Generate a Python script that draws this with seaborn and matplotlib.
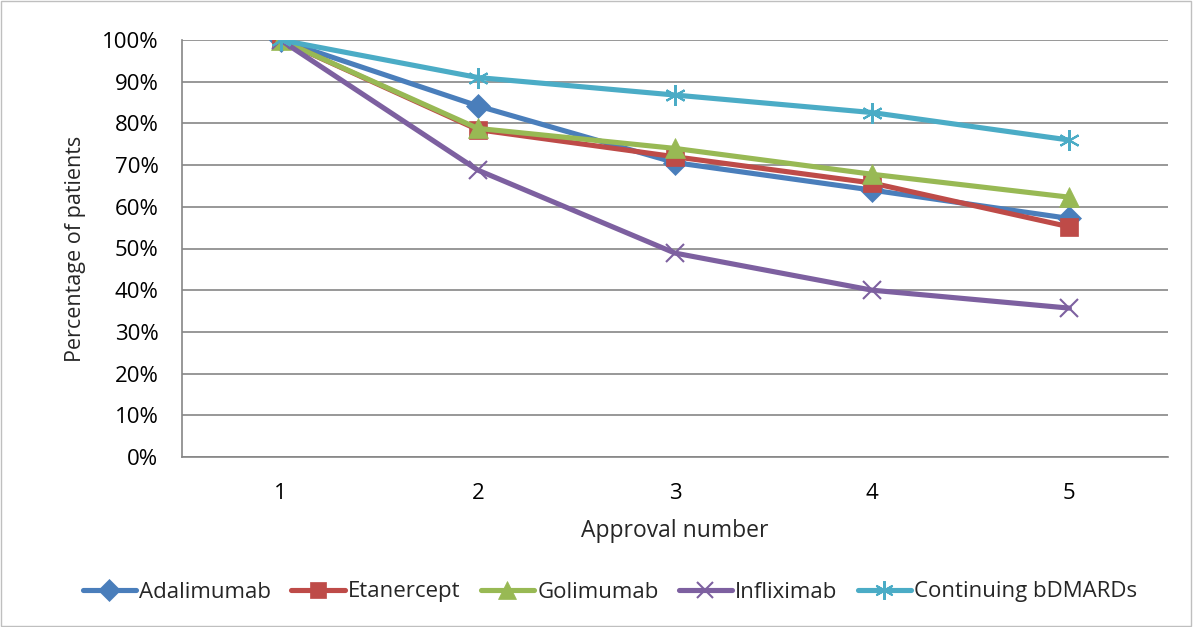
import matplotlib
matplotlib.use("Agg")
import matplotlib.pyplot as plt
import seaborn as sns
import pandas as pd
from matplotlib.ticker import PercentFormatter, FixedLocator
from matplotlib.patches import Rectangle

approval = [1, 2, 3, 4, 5]
adalimumab = [100, 84.2, 70.6, 64.0, 57.2]
etanercept = [100, 78.5, 72.0, 65.7, 55.2]
golimumab = [100, 78.8, 74.0, 67.8, 62.3]
infliximab = [100, 68.8, 48.9, 40.0, 35.7]
continuing = [100, 91.0, 86.8, 82.6, 76.0]

series_names = ["Adalimumab", "Etanercept", "Golimumab", "Infliximab", "Continuing bDMARDs"]
series_values = [adalimumab, etanercept, golimumab, infliximab, continuing]
colors = ["#4A7EBB", "#BE4B48", "#98B954", "#7D60A0", "#4BACC6"]
markers = ["D", "s", "^", "x", (6, 2, 0)]
msizes = [12, 13.5, 15, 13, 15]

sns.set_style("white")
plt.rcParams["font.family"] = ["Open Sans", "DejaVu Sans"]

fig = plt.figure(figsize=(11.93, 6.27), dpi=100)
ax = fig.add_axes([182 / 1193, 1 - 457 / 627, (1168 - 182) / 1193, (457 - 40) / 627])

for name, vals, c, m, ms in zip(series_names, series_values, colors, markers, msizes):
    df = pd.DataFrame({"approval": approval, "pct": vals})
    sns.lineplot(data=df, x="approval", y="pct", ax=ax, color=c, linewidth=3.7,
                 marker=m, markersize=ms, markeredgecolor=c,
                 markeredgewidth=1.5 if m in ("x", (6, 2, 0)) else 0.5,
                 label=name)

ax.set_xlim(0.5, 5.5)
ax.set_ylim(0, 100)
ax.yaxis.set_major_locator(FixedLocator(range(0, 101, 10)))
ax.yaxis.set_major_formatter(PercentFormatter(decimals=0))
ax.set_xticks(approval)
ax.set_xticklabels([str(a) for a in approval])
ax.set_xticks([0.5, 1.5, 2.5, 3.5, 4.5, 5.5], minor=True)
ax.tick_params(axis="x", which="major", length=0, labelsize=16, pad=19, colors="black")
ax.tick_params(axis="x", which="minor", length=6, width=1, color="#868686", direction="out")
ax.tick_params(axis="y", which="major", length=6, width=1, color="#868686", direction="out",
               labelsize=16, pad=11, labelcolor="black")
ax.grid(axis="y", color="#868686", linewidth=1.2)
ax.set_axisbelow(True)
for s in ["top", "right"]:
    ax.spines[s].set_visible(False)
for s in ["left", "bottom"]:
    ax.spines[s].set_color("#868686")
    ax.spines[s].set_linewidth(1.2)

ax.set_xlabel("Approval number", fontsize=16.5)
ax.set_ylabel("Percentage of patients", fontsize=15.5)
ax.xaxis.label.set_va("center")
ax.yaxis.label.set_va("center")
ax.yaxis.label.set_ha("center")
ax.xaxis.set_label_coords(0.5, (457 - 531) / 417)
ax.yaxis.set_label_coords((76 - 182) / 986, 0.5)

ax.legend(loc="center", bbox_to_anchor=(610 / 1193, 1 - 592 / 627), bbox_transform=fig.transFigure,
          ncol=5, frameon=False, fontsize=16, handlelength=2.4, handletextpad=0.15,
          columnspacing=0.9, borderpad=0, markerscale=0.9)

fig.patches.append(Rectangle((0.001, 0.002), 0.997, 0.996, transform=fig.transFigure,
                             fill=False, edgecolor="#BFBFBF", linewidth=1))

fig.savefig("out.png", dpi=100)
